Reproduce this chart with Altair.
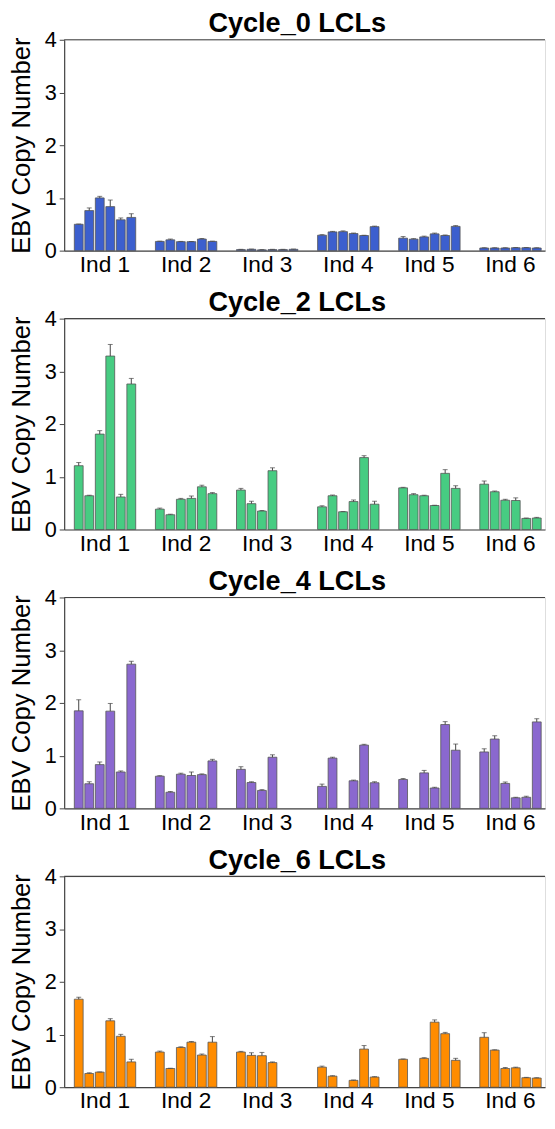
import altair as alt
import pandas as pd

individuals = ["Ind 1", "Ind 2", "Ind 3", "Ind 4", "Ind 5", "Ind 6"]
slots = [1, 2, 3, 4, 5, 6]
cycles = ["Cycle_0 LCLs", "Cycle_2 LCLs", "Cycle_4 LCLs", "Cycle_6 LCLs"]
colors = ["#3c5fce", "#47cc82", "#8a68cf", "#ff8c00"]

# mean copy number per individual (6 replicate lines each, None = missing)
c0_mean = [
    [0.50, 0.76, 1.00, 0.835, 0.585, 0.63],
    [0.175, 0.205, 0.17, 0.17, 0.22, 0.175],
    [0.02, 0.025, 0.015, 0.02, 0.02, 0.025],
    [0.293, 0.355, 0.36, 0.324, 0.287, 0.455],
    [0.237, 0.218, 0.26, 0.318, 0.287, 0.46],
    [0.05, 0.05, 0.05, 0.055, 0.055, 0.05],
]
c0_sd = [
    [0.005, 0.05, 0.03, 0.125, 0.035, 0.07],
    [0.005, 0.015, 0.005, 0.005, 0.01, 0.005],
    [0.005, 0.005, 0.005, 0.005, 0.005, 0.005],
    [0.01, 0.01, 0.015, 0.01, 0.005, 0.01],
    [0.03, 0.01, 0.015, 0.015, 0.01, 0.015],
    [0.005, 0.005, 0.005, 0.005, 0.005, 0.005],
]
c2_mean = [
    [1.21, 0.64, 1.81, 3.29, 0.617, 2.76],
    [0.386, 0.28, 0.573, 0.59, 0.81, 0.68],
    [0.748, 0.49, 0.35, 1.115, None, None],
    [0.43, 0.64, 0.336, 0.53, 1.364, 0.48],
    [0.79, 0.66, 0.64, 0.455, 1.065, 0.78],
    [0.86, 0.716, 0.555, 0.55, 0.21, 0.218],
]
c2_sd = [
    [0.06, 0.01, 0.065, 0.22, 0.05, 0.106],
    [0.02, 0.01, 0.017, 0.045, 0.03, 0.02],
    [0.032, 0.046, 0.01, 0.055, None, None],
    [0.02, 0.014, 0.005, 0.03, 0.036, 0.056],
    [0.01, 0.02, 0.01, 0.005, 0.07, 0.05],
    [0.06, 0.014, 0.018, 0.05, 0.008, 0.012],
]
c4_mean = [
    [1.85, 0.467, 0.83, 1.844, 0.69, 2.735],
    [0.61, 0.305, 0.648, 0.623, 0.64, 0.90],
    [0.74, 0.49, 0.34, 0.97, None, None],
    [0.417, 0.953, None, 0.523, 1.20, 0.486],
    [0.548, None, 0.673, 0.386, 1.59, 1.103],
    [1.07, 1.315, 0.473, 0.20, 0.21, 1.64],
]
c4_sd = [
    [0.21, 0.038, 0.05, 0.146, 0.02, 0.055],
    [0.01, 0.015, 0.019, 0.067, 0.014, 0.03],
    [0.05, 0.015, 0.015, 0.046, None, None],
    [0.043, 0.017, None, 0.013, 0.015, 0.019],
    [0.019, None, 0.047, 0.014, 0.055, 0.117],
    [0.06, 0.062, 0.027, 0.01, 0.02, 0.06],
]
c6_mean = [
    [1.67, 0.26, 0.287, 1.26, 0.966, 0.48],
    [0.667, 0.355, 0.754, 0.854, 0.61, 0.854],
    [0.667, 0.604, 0.598, 0.467, None, None],
    [0.38, 0.21, None, 0.13, 0.723, 0.193],
    [0.53, None, 0.548, 1.234, 1.016, 0.51],
    [0.947, 0.704, 0.355, 0.368, 0.18, 0.174],
]
c6_sd = [
    [0.037, 0.014, 0.003, 0.04, 0.037, 0.05],
    [0.018, 0.005, 0.012, 0.012, 0.02, 0.106],
    [0.013, 0.05, 0.062, 0.013, None, None],
    [0.02, 0.008, None, 0.007, 0.067, 0.007],
    [0.006, None, 0.012, 0.043, 0.024, 0.038],
    [0.087, 0.006, 0.019, 0.012, 0.007, 0.006],
]

all_means = [c0_mean, c2_mean, c4_mean, c6_mean]
all_sds = [c0_sd, c2_sd, c4_sd, c6_sd]

FONT = "Liberation Sans"
AXIS_COLOR = "#444444"


def make_df(means, sds):
    rows = []
    for gi, ind in enumerate(individuals):
        for si, slot in enumerate(slots):
            m = means[gi][si]
            if m is None:
                continue
            s = sds[gi][si]
            rows.append({"ind": ind, "slot": slot, "mean": m, "upper": m + s})
    return pd.DataFrame(rows)


def panel(title, color, df):
    x = alt.X(
        "ind:N",
        sort=individuals,
        scale=alt.Scale(paddingInner=0.243, paddingOuter=0.0863, align=0.725),
        axis=alt.Axis(
            title=None, labelAngle=0, ticks=False, tickSize=0, labelPadding=3,
            labelFontSize=23, labelFont=FONT, labelColor="black",
            domainColor=AXIS_COLOR, domainWidth=1.2,
        ),
    )
    xo = alt.XOffset(
        "slot:O",
        scale=alt.Scale(domain=slots, paddingInner=0.16, paddingOuter=0),
    )
    y = alt.Y(
        "mean:Q",
        scale=alt.Scale(domain=[0, 4], nice=False),
        axis=alt.Axis(
            title="EBV Copy Number", values=[0, 1, 2, 3, 4], format="d",
            grid=False, tickSize=5, tickColor=AXIS_COLOR, labelPadding=3,
            labelFontSize=22, labelFont=FONT, labelColor="black",
            titleFontSize=26, titleFont=FONT, titleFontWeight="normal",
            titleColor="black", titlePadding=10,
            domainColor=AXIS_COLOR, domainWidth=1.2,
        ),
    )
    base = alt.Chart(df)
    bars = base.mark_bar(color=color, stroke="#555555", strokeWidth=0.8).encode(
        x=x, xOffset=xo, y=y
    )
    err = base.mark_rule(color="#444444", strokeWidth=1).encode(
        x=x, xOffset=xo, y="mean:Q", y2="upper:Q"
    )
    cap = base.mark_tick(color="#444444", size=5, thickness=1).encode(
        x=x, xOffset=xo, y="upper:Q"
    )
    top = alt.Chart(pd.DataFrame({"v": [4]})).mark_rule(
        color=AXIS_COLOR, strokeWidth=1.2
    ).encode(y=alt.Y("v:Q"))
    return alt.layer(bars, err, cap, top).properties(
        width=488, height=214,
        title=alt.Title(title, fontSize=27.5, font=FONT, fontWeight="bold",
                        color="black", offset=-9, dx=-7.5),
    )


panels = [
    panel(cycles[i], colors[i], make_df(all_means[i], all_sds[i]))
    for i in range(4)
]

chart = alt.vconcat(*panels, spacing=12).properties(
    padding={"left": 0, "top": -6, "right": 0, "bottom": -4}
).configure_view(stroke=None).configure(background="white")

chart.save("out.html", embed_options={"renderer": "svg", "actions": False})
